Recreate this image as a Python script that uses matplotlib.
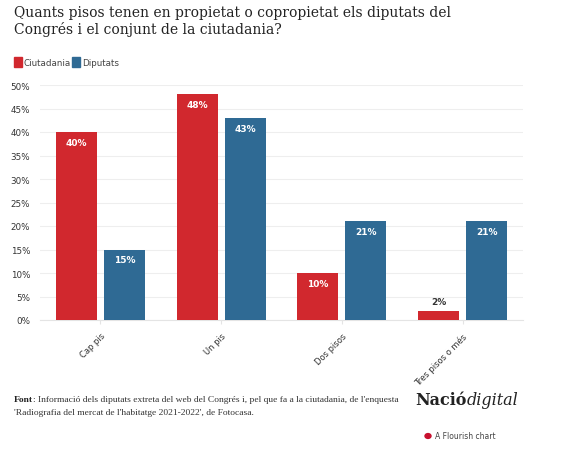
import matplotlib.pyplot as plt
import numpy as np

categories = ['Cap pis', 'Un pis', 'Dos pisos', 'Tres pisos o més']
ciutadania = [40, 48, 10, 2]
diputats = [15, 43, 21, 21]
yticks = [0, 5, 10, 15, 20, 25, 30, 35, 40, 45, 50]

red = '#d1282e'
blue = '#2f6a94'

fig = plt.figure(figsize=(5.67, 4.56), dpi=100)
W, H = 567, 456
ax = fig.add_axes([40 / W, 1 - 321 / H, 483 / W, 235 / H])

x = np.arange(len(categories))
w = 0.34
off = 0.198
b1 = ax.bar(x - off, ciutadania, w, color=red, zorder=3)
b2 = ax.bar(x + off, diputats, w, color=blue, zorder=3)

for rect, v in zip(list(b1) + list(b2), ciutadania + diputats):
    cx = rect.get_x() + rect.get_width() / 2
    if v >= 5:
        ax.text(cx, v - 1.2, f'{v}%', ha='center', va='top', color='white',
                fontsize=6.5, fontweight='bold', zorder=4)
    else:
        ax.text(cx, v + 1.0, f'{v}%', ha='center', va='bottom', color='#333333',
                fontsize=6.5, fontweight='bold', zorder=4)

ax.set_xlim(-0.5, 3.5)
ax.set_ylim(0, 50)
ax.set_yticks(yticks)
ax.set_yticklabels([f'{t}%' for t in yticks], fontsize=6.3, color='#333333')
ax.set_xticks(x)
ax.set_xticklabels(categories, rotation=45, ha='right', rotation_mode='anchor',
                   fontsize=6.0, color='#333333')
ax.tick_params(axis='y', length=0, pad=7)
ax.tick_params(axis='x', length=3, color='#e4e4e4', pad=5)
ax.grid(axis='y', color='#eeeeee', linewidth=0.8, zorder=0)
for s in ['top', 'right', 'left']:
    ax.spines[s].set_visible(False)
ax.spines['bottom'].set_color('#e4e4e4')

fig.text(14 / W, 1 - 6 / H,
         'Quants pisos tenen en propietat o copropietat els diputats del\nCongrés i el conjunt de la ciutadania?',
         ha='left', va='top', fontsize=10, family='DejaVu Serif', color='#222222',
         linespacing=1.2)

# legend
for lx, col, lab in [(14, red, 'Ciutadania'), (72, blue, 'Diputats')]:
    fig.patches.append(plt.Rectangle((lx / W, 1 - 68 / H), 8 / W, 10 / H,
                                     transform=fig.transFigure, color=col))
    fig.text((lx + 10) / W, 1 - 63 / H, lab, ha='left', va='center',
             fontsize=6.3, color='#444444')

# source note
t = fig.text(14 / W, 1 - 400 / H, 'Font', ha='left', va='center', fontsize=6.8,
             family='Liberation Serif', fontweight='bold', color='#222222')
fig.canvas.draw()
bb = t.get_window_extent()
fig.text(bb.x1 / W, 1 - 400 / H,
         ": Informació dels diputats extreta del web del Congrés i, pel que fa a la ciutadania, de l'enquesta",
         ha='left', va='center', fontsize=6.8, family='Liberation Serif', color='#333333')
fig.text(14 / W, 1 - 413 / H,
         "'Radiografia del mercat de l'habitatge 2021-2022', de Fotocasa.",
         ha='left', va='center', fontsize=6.8, family='Liberation Serif', color='#333333')

# logo
n = fig.text(415 / W, 1 - 401 / H, 'Nació', ha='left', va='center', fontsize=11.5,
             family='DejaVu Serif', fontweight='bold', color='#222222')
fig.canvas.draw()
nb = n.get_window_extent()
fig.text(nb.x1 / W, 1 - 401 / H, 'digital', ha='left', va='center', fontsize=11.5,
         family='DejaVu Serif', style='italic', color='#222222')

fig.patches.append(plt.Circle((428 / W, 1 - 437 / H), 3 / W, transform=fig.transFigure,
                              color='#c8102e'))
fig.text(435 / W, 1 - 437 / H, 'A Flourish chart', ha='left', va='center',
         fontsize=5.5, color='#444444')

fig.savefig('out.png', dpi=100)
